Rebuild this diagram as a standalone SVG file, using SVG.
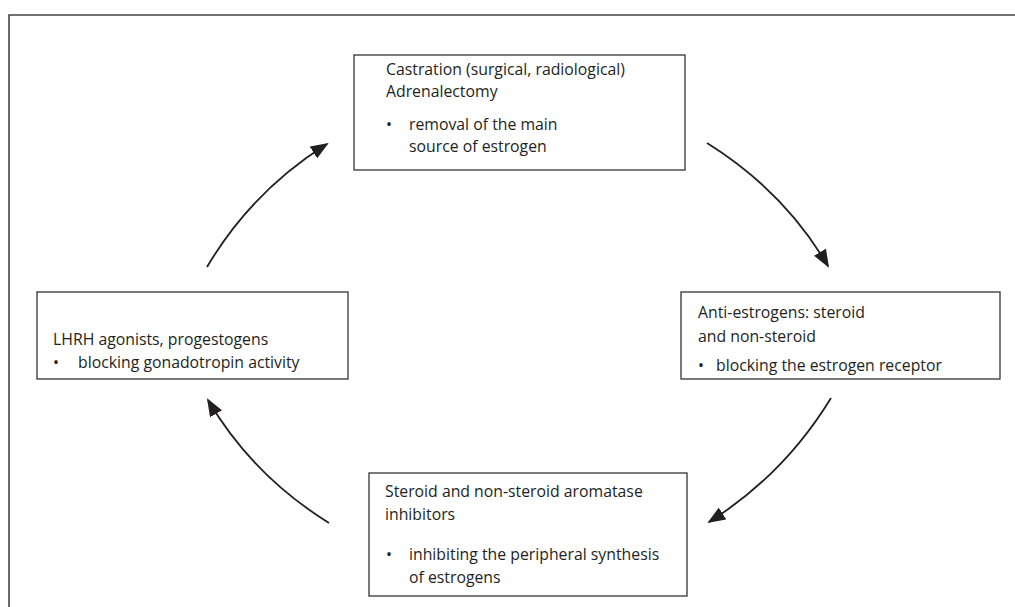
<svg xmlns="http://www.w3.org/2000/svg" width="1015" height="607" viewBox="0 0 1015 607">
<defs>
<style>
.frame{fill:none;stroke:#444;stroke-width:1.6}
.box{fill:#fff;stroke:#333;stroke-width:1.3}
.t{font-family:"Open Sans","Liberation Sans",Arial,sans-serif;font-size:15.8px;fill:#231f20}
.arr{fill:none;stroke:#231f20;stroke-width:1.8}
</style>
<marker id="ah" markerUnits="userSpaceOnUse" markerWidth="18" markerHeight="14" viewBox="0 0 18 14" refX="16" refY="7" orient="auto">
<path d="M0,0 L18,7 L0,14 z" fill="#231f20"/>
</marker>
</defs>
<rect width="1015" height="607" fill="#fff"/>
<path class="frame" d="M9,607 V15 H1015"/>
<g id="connectors">
<path class="arr" d="M207,267 Q252,191 327,144" marker-end="url(#ah)"/>
<path class="arr" d="M707,143 Q784,191 828,266" marker-end="url(#ah)"/>
<path class="arr" d="M831,398 Q784,475 709,522" marker-end="url(#ah)"/>
<path class="arr" d="M329,523 Q252,475 208,400" marker-end="url(#ah)"/>
</g>
<g id="castration">
<rect class="box" x="354" y="55" width="331" height="115"/>
<text class="t" x="386" y="75">Castration (surgical, radiological)</text>
<text class="t" x="386" y="97">Adrenalectomy</text>
<text class="t" x="386" y="130">•</text>
<text class="t" x="409" y="130">removal of the main</text>
<text class="t" x="409" y="152">source of estrogen</text>
</g>
<g id="antiestrogens">
<rect class="box" x="681" y="292" width="319" height="87"/>
<text class="t" x="698" y="318">Anti-estrogens: steroid</text>
<text class="t" x="698" y="342">and non-steroid</text>
<text class="t" x="698" y="371">•</text>
<text class="t" x="716" y="371">blocking the estrogen receptor</text>
</g>
<g id="aromatase">
<rect class="box" x="369" y="473" width="318" height="123"/>
<text class="t" x="385" y="497">Steroid and non-steroid aromatase</text>
<text class="t" x="385" y="520">inhibitors</text>
<text class="t" x="386" y="560">•</text>
<text class="t" x="409" y="560">inhibiting the peripheral synthesis</text>
<text class="t" x="409" y="583">of estrogens</text>
</g>
<g id="lhrh">
<rect class="box" x="37" y="292" width="311" height="87"/>
<text class="t" x="53" y="345">LHRH agonists, progestogens</text>
<text class="t" x="53" y="368">•</text>
<text class="t" x="78" y="368">blocking gonadotropin activity</text>
</g>
</svg>
